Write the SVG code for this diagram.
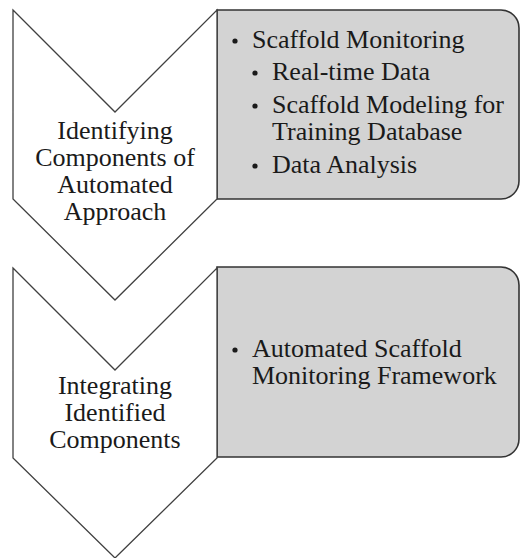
<svg xmlns="http://www.w3.org/2000/svg" width="520" height="558" viewBox="0 0 520 558">
  <rect width="520" height="558" fill="#ffffff"/>

  <!-- step 1 -->
  <g id="step1-detail">
    <path d="M217,10 H501 A18,18 0 0 1 519,28 V181 A18,18 0 0 1 501,199 H217 Z" fill="#d3d3d3" stroke="#333333" stroke-width="1.6"/>
    <circle cx="235" cy="41" r="2.6" fill="#1a1a1a"/>
    <text x="252" y="48" font-family="Times New Roman" style="font-family:'Liberation Serif'" font-size="26" fill="#1a1a1a">Scaffold Monitoring</text>
    <circle cx="255" cy="73" r="2.6" fill="#1a1a1a"/>
    <text x="272" y="80" font-family="Times New Roman" style="font-family:'Liberation Serif'" font-size="26" fill="#1a1a1a">Real-time Data</text>
    <circle cx="255" cy="106" r="2.6" fill="#1a1a1a"/>
    <text x="272" y="113" font-family="Times New Roman" style="font-family:'Liberation Serif'" font-size="26" fill="#1a1a1a">Scaffold Modeling for</text>
    <text x="272" y="140" font-family="Times New Roman" style="font-family:'Liberation Serif'" font-size="26" fill="#1a1a1a">Training Database</text>
    <circle cx="255" cy="166" r="2.6" fill="#1a1a1a"/>
    <text x="272" y="173" font-family="Times New Roman" style="font-family:'Liberation Serif'" font-size="26" fill="#1a1a1a">Data Analysis</text>
  </g>
  <g id="step1">
    <path d="M13,10 L115,112 L217,10 L217,199 L115,300 L13,199 Z" fill="#ffffff" stroke="#404040" stroke-width="1.3"/>
    <text x="115" y="139" text-anchor="middle" font-family="Times New Roman" style="font-family:'Liberation Serif'" font-size="26" fill="#1a1a1a">Identifying</text>
    <text x="115" y="166" text-anchor="middle" font-family="Times New Roman" style="font-family:'Liberation Serif'" font-size="26" fill="#1a1a1a">Components of</text>
    <text x="115" y="193" text-anchor="middle" font-family="Times New Roman" style="font-family:'Liberation Serif'" font-size="26" fill="#1a1a1a">Automated</text>
    <text x="115" y="220" text-anchor="middle" font-family="Times New Roman" style="font-family:'Liberation Serif'" font-size="26" fill="#1a1a1a">Approach</text>
  </g>

  <!-- step 2 -->
  <g id="step2-detail">
    <path d="M217,267 H501 A18,18 0 0 1 519,285 V439 A18,18 0 0 1 501,457 H217 Z" fill="#d3d3d3" stroke="#333333" stroke-width="1.6"/>
    <circle cx="235" cy="350" r="2.6" fill="#1a1a1a"/>
    <text x="252" y="357" font-family="Times New Roman" style="font-family:'Liberation Serif'" font-size="26" fill="#1a1a1a">Automated Scaffold</text>
    <text x="252" y="384" font-family="Times New Roman" style="font-family:'Liberation Serif'" font-size="26" fill="#1a1a1a">Monitoring Framework</text>
  </g>
  <g id="step2">
    <path d="M13,268 L115,370 L217,268 L217,458 L115,558 L13,458 Z" fill="#ffffff" stroke="#404040" stroke-width="1.3"/>
    <text x="115" y="394" text-anchor="middle" font-family="Times New Roman" style="font-family:'Liberation Serif'" font-size="26" fill="#1a1a1a">Integrating</text>
    <text x="115" y="421" text-anchor="middle" font-family="Times New Roman" style="font-family:'Liberation Serif'" font-size="26" fill="#1a1a1a">Identified</text>
    <text x="115" y="448" text-anchor="middle" font-family="Times New Roman" style="font-family:'Liberation Serif'" font-size="26" fill="#1a1a1a">Components</text>
  </g>

  <g id="connectors"/>
</svg>
